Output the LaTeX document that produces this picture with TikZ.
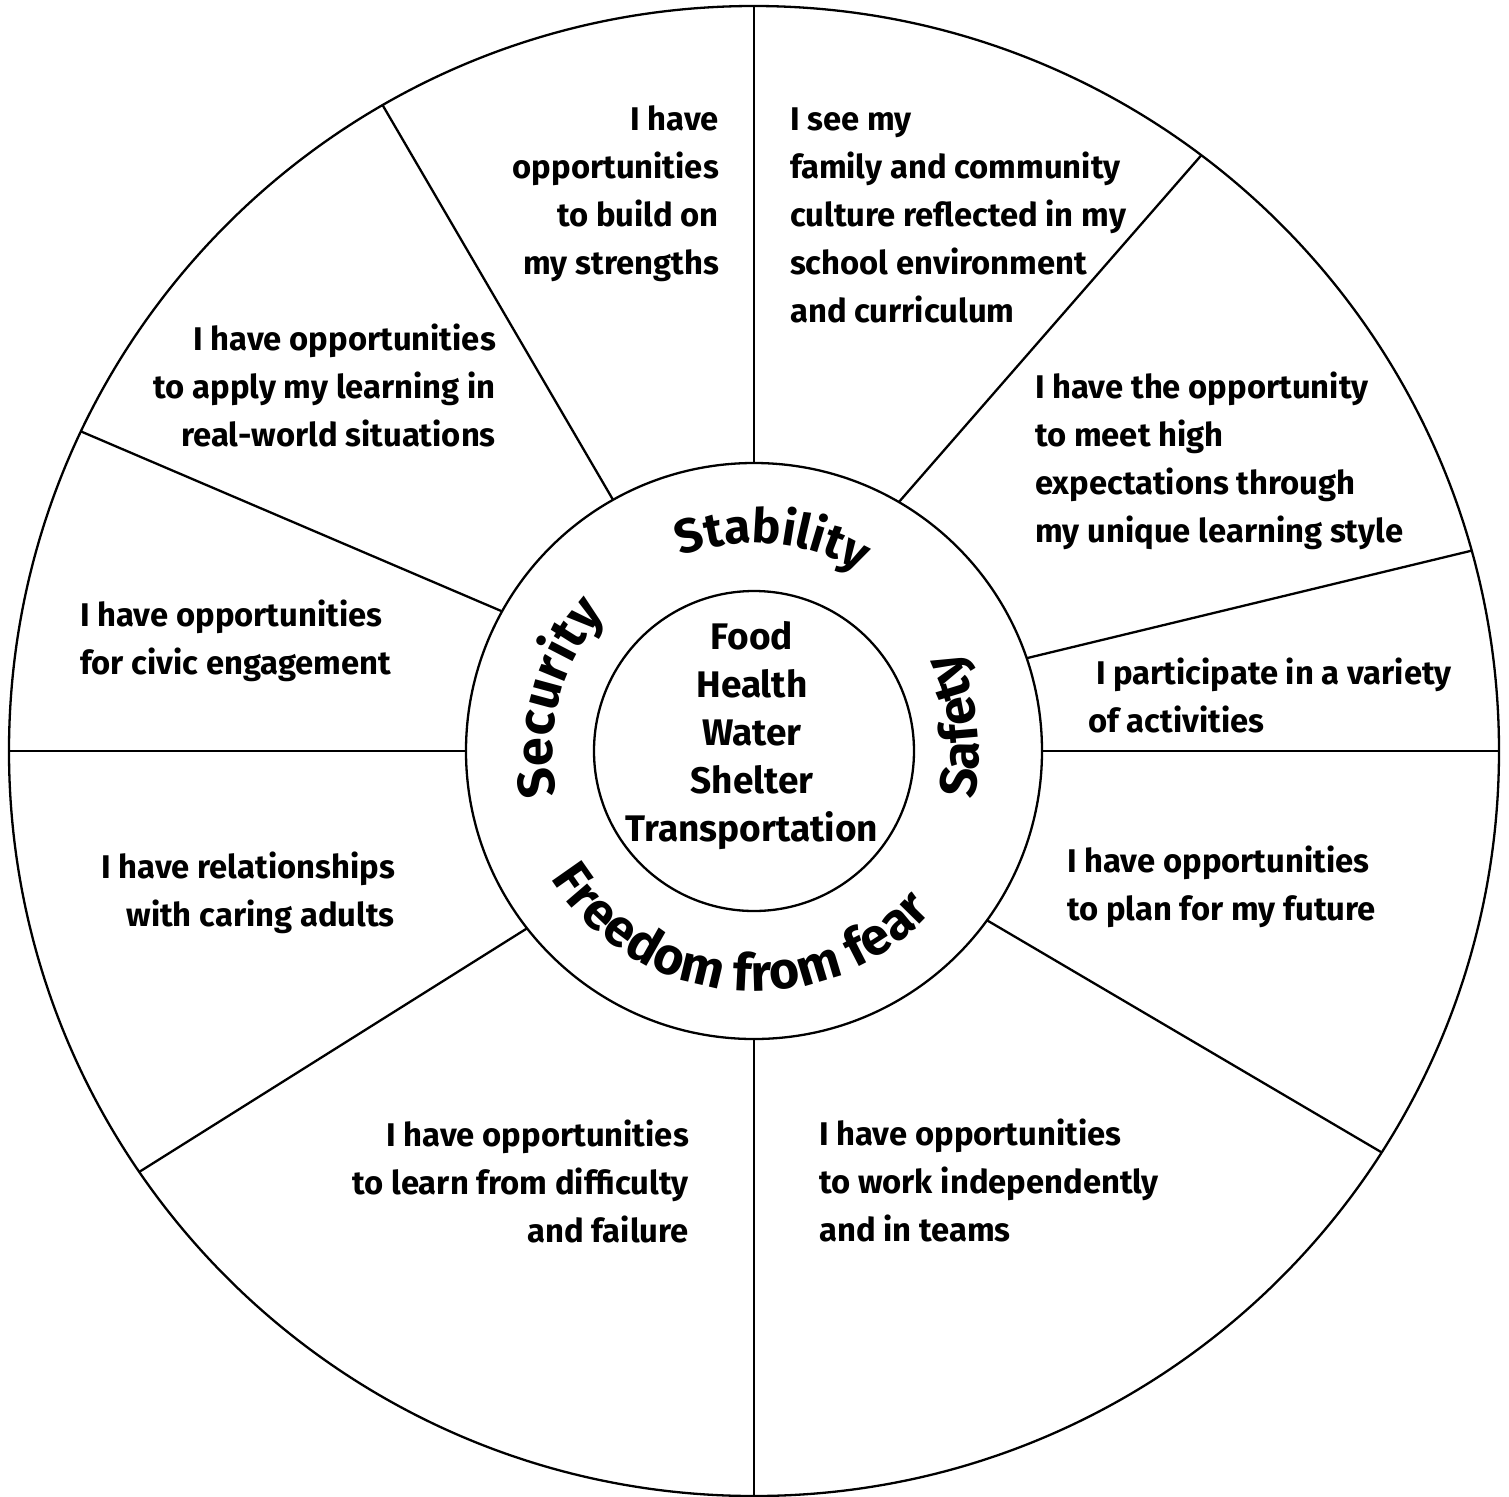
\documentclass[tikz,border=0pt]{standalone}
\usepackage{fontspec}
\setmainfont{Fira Sans}
\usetikzlibrary{decorations.text}
\newcommand\ringfont{\fontsize{26}{30}\selectfont\bfseries}
\newcommand\ringfontS{\fontsize{24}{30}\selectfont\bfseries}
\begin{document}
\begin{tikzpicture}[x=0.5pt,y=0.5pt, line width=1.15pt,
  lbl/.style={font=\fontsize{16.4}{24}\selectfont\bfseries, inner sep=0pt},
  lblL/.style={lbl, align=left, anchor=base west},
  lblR/.style={lbl, align=right, anchor=base east},
  corelbl/.style={font=\fontsize{18.5}{24}\selectfont\bfseries, inner sep=0pt, align=center, anchor=base}
]
\useasboundingbox (-754,751) rectangle (755,-745);
% circles
\draw (0,0) circle[radius=745];
\draw (0,0) circle[radius=288];
\draw (0,0) circle[radius=160];
% spokes
\foreach \a/\b [count=\i] in {90/90, 59.8/53.1, 18.8/15.6, 0/0, -36/-32.6, -90/-90, 218/214.4, 180/180, 151/154.6, 119.3/119.9}{
  \coordinate (in\i) at (\a:288);
  \coordinate (out\i) at (\b:745);
  \draw (in\i) -- (out\i);
}
% ring words
\path[decorate, decoration={text along path, text align=center, text={|\ringfontS|Stability}}]
  (135:208) arc[start angle=135, end angle=35, radius=208];
\path[decorate, decoration={text along path, text align=center, text={|\ringfont|Security}}]
  (215:202) arc[start angle=215, end angle=115, radius=202];
\path[decorate, decoration={text along path, text align=center, text={|\ringfont|Safety}}]
  (-43:225) arc[start angle=-43, end angle=57, radius=225];
\path[decorate, decoration={text along path, text align=center, text={|\ringfont|Freedom from fear}}]
  (190:240) arc[start angle=190, end angle=340, radius=240];
% core (base anchor = last line baseline)
\node[corelbl] (core) at (-2,-90) {Food\\Health\\Water\\Shelter\\Transportation};
% segment texts
\node[lblR] (strengths) at (-34,477) {I have\\opportunities\\to build on\\my strengths};
\node[lblL] (culture) at (35,429) {I see my\\family and community\\culture reflected in my\\school environment\\and curriculum};
\node[lblL] (expect) at (280,209) {I have the opportunity\\to meet high\\expectations through\\my unique learning style};
\node[lblL] (activities) at (333,19) {\hspace*{4pt}I participate in a variety\\of activities};
\node[lblL] (future) at (312,-169) {I have opportunities\\to plan for my future};
\node[lblL] (teams) at (64,-490) {I have opportunities\\to work independently\\and in teams};
\node[lblR] (failure) at (-64,-491) {I have opportunities\\to learn from difficulty\\and failure};
\node[lblR] (adults) at (-358,-175) {I have relationships\\with caring adults};
\node[lblL] (civic) at (-675,77) {I have opportunities\\for civic engagement};
\node[lblR] (apply) at (-257,305) {I have opportunities\\to apply my learning in\\real-world situations};
\end{tikzpicture}
\end{document}
